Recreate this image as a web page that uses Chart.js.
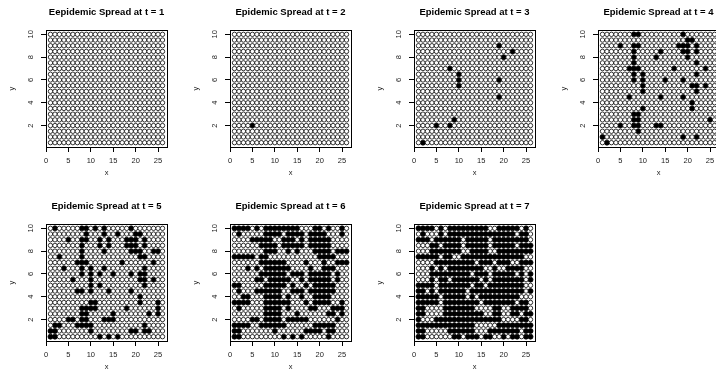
<!DOCTYPE html>
<html>
<head>
<meta charset="utf-8">
<script src="https://cdn.jsdelivr.net/npm/chart.js@4.4.1/dist/chart.umd.min.js"></script>
<style>
  html, body { margin: 0; padding: 0; background: #fff; overflow: hidden; }
  #wrap { position: relative; width: 716px; height: 376px; overflow: hidden; }
  #wrap canvas { position: absolute; }
</style>
</head>
<body>
<div id="wrap"></div>
<script>
// grid state per time step: one string per row, top row is y = 10, bottom row y = 0.5
// 'x' = infected, 'o' = susceptible, columns x = 1..26 (spaces are just for reading)
const titles = [
  'Eepidemic Spread at t = 1',
  'Epidemic Spread at t = 2',
  'Epidemic Spread at t = 3',
  'Epidemic Spread at t = 4',
  'Epidemic Spread at t = 5',
  'Epidemic Spread at t = 6',
  'Epidemic Spread at t = 7',
];
const xTicks = [0, 5, 10, 15, 20, 25];
const yTicks = [2, 4, 6, 8, 10];
const rowY = [10, 9.5, 9, 8.5, 8, 7.5, 7, 6.5, 6, 5.5, 5, 4.5, 4, 3.5, 3, 2.5, 2, 1.5, 1, 0.5];

const gridT1 = [
  'ooooo ooooo ooooo ooooo ooooo o',
  'ooooo ooooo ooooo ooooo ooooo o',
  'ooooo ooooo ooooo ooooo ooooo o',
  'ooooo ooooo ooooo ooooo ooooo o',
  'ooooo ooooo ooooo ooooo ooooo o',
  'ooooo ooooo ooooo ooooo ooooo o',
  'ooooo ooooo ooooo ooooo ooooo o',
  'ooooo ooooo ooooo ooooo ooooo o',
  'ooooo ooooo ooooo ooooo ooooo o',
  'ooooo ooooo ooooo ooooo ooooo o',
  'ooooo ooooo ooooo ooooo ooooo o',
  'ooooo ooooo ooooo ooooo ooooo o',
  'ooooo ooooo ooooo ooooo ooooo o',
  'ooooo ooooo ooooo ooooo ooooo o',
  'ooooo ooooo ooooo ooooo ooooo o',
  'ooooo ooooo ooooo ooooo ooooo o',
  'ooooo ooooo ooooo ooooo ooooo o',
  'ooooo ooooo ooooo ooooo ooooo o',
  'ooooo ooooo ooooo ooooo ooooo o',
  'ooooo ooooo ooooo ooooo ooooo o',
];
const gridT2 = [
  'ooooo ooooo ooooo ooooo ooooo o',
  'ooooo ooooo ooooo ooooo ooooo o',
  'ooooo ooooo ooooo ooooo ooooo o',
  'ooooo ooooo ooooo ooooo ooooo o',
  'ooooo ooooo ooooo ooooo ooooo o',
  'ooooo ooooo ooooo ooooo ooooo o',
  'ooooo ooooo ooooo ooooo ooooo o',
  'ooooo ooooo ooooo ooooo ooooo o',
  'ooooo ooooo ooooo ooooo ooooo o',
  'ooooo ooooo ooooo ooooo ooooo o',
  'ooooo ooooo ooooo ooooo ooooo o',
  'ooooo ooooo ooooo ooooo ooooo o',
  'ooooo ooooo ooooo ooooo ooooo o',
  'ooooo ooooo ooooo ooooo ooooo o',
  'ooooo ooooo ooooo ooooo ooooo o',
  'ooooo ooooo ooooo ooooo ooooo o',
  'oooox ooooo ooooo ooooo ooooo o',
  'ooooo ooooo ooooo ooooo ooooo o',
  'ooooo ooooo ooooo ooooo ooooo o',
  'ooooo ooooo ooooo ooooo ooooo o',
];
const gridT3 = [
  'ooooo ooooo ooooo ooooo ooooo o',
  'ooooo ooooo ooooo ooooo ooooo o',
  'ooooo ooooo ooooo oooxo ooooo o',
  'ooooo ooooo ooooo ooooo oxooo o',
  'ooooo ooooo ooooo oooox ooooo o',
  'ooooo ooooo ooooo ooooo ooooo o',
  'ooooo ooxoo ooooo ooooo ooooo o',
  'ooooo oooox ooooo ooooo ooooo o',
  'ooooo oooox ooooo oooxo ooooo o',
  'ooooo oooox ooooo ooooo ooooo o',
  'ooooo ooooo ooooo ooooo ooooo o',
  'ooooo ooooo ooooo oooxo ooooo o',
  'ooooo ooooo ooooo ooooo ooooo o',
  'ooooo ooooo ooooo ooooo ooooo o',
  'ooooo ooooo ooooo ooooo ooooo o',
  'ooooo oooxo ooooo ooooo ooooo o',
  'oooox ooxoo ooooo ooooo ooooo o',
  'ooooo ooooo ooooo ooooo ooooo o',
  'ooooo ooooo ooooo ooooo ooooo o',
  'oxooo ooooo ooooo ooooo ooooo o',
];
const gridT4 = [
  'ooooo ooxxo ooooo oooxo ooooo o',
  'ooooo ooooo ooooo oooox xoooo o',
  'oooox ooxxo ooooo ooxxx oxooo o',
  'ooooo ooxoo oooxo oooxx oxooo o',
  'ooooo ooxoo ooxoo oooox ooooo o',
  'ooooo ooxoo ooooo ooooo oxooo o',
  'ooooo oxxxo ooooo oxooo oooxo o',
  'ooooo ooxox ooooo ooooo oxooo o',
  'ooooo ooxox oooox oooxo ooooo o',
  'ooooo oooox ooooo ooooo xxoxo o',
  'ooooo oooox ooooo ooooo oxooo o',
  'ooooo oxooo oooxo oooxo ooooo o',
  'ooooo ooooo ooooo ooooo xoooo o',
  'ooooo oooox ooooo ooooo xoooo o',
  'ooooo ooxxo ooooo ooooo ooooo o',
  'ooooo ooxxo ooooo ooooo oooox o',
  'oooox ooxxo ooxxo ooooo ooooo o',
  'ooooo oooxo ooooo ooooo ooooo o',
  'xoooo ooooo ooooo oooxo oxooo o',
  'oxooo ooooo ooooo ooooo ooooo o',
];
const gridT5 = [
  'oxooo ooxxo xoxoo oooxo ooooo o',
  'ooooo oooxo ooxoo xooox xoooo o',
  'oooox ooxxo oxoxo ooxxx oxooo o',
  'ooooo ooxoo oxoxo ooxxx oxooo o',
  'ooooo ooxoo ooxoo oooxx xooxx o',
  'ooxoo ooxoo ooooo ooooo xxooo o',
  'ooooo oxxxo ooooo oxooo oooxo o',
  'oooxo ooxox ooxoo ooooo oxooo o',
  'ooooo ooxox oxoox oooxo xxooo o',
  'ooooo xooox ooooo ooooo xxoxo o',
  'ooooo oooox oxooo ooooo oxooo o',
  'ooooo oxxox oooxo oooxo ooooo o',
  'ooooo ooooo ooooo ooooo xoooo o',
  'ooooo oooox xoooo ooooo xooox o',
  'ooooo ooxxx xoooo ooxoo oooox o',
  'ooooo ooxxo oooox ooooo ooxox o',
  'oooox xoxxo ooxxx ooooo ooooo o',
  'oxxoo oxxxx ooooo ooooo oxooo o',
  'xxooo oooox ooooo oooxx oxxoo o',
  'xxooo ooooo oxoxo xoooo ooooo o',
];
const gridT6 = [
  'xxxxo xoxxx xxxxx oooxx oxoox o',
  'oxooo ooxxx xoxxx xoxxx xooox o',
  'oooox xxxxo oxxxo xoxxx xxooo o',
  'ooooo oxxxx oxxxx xoxxx xxooo o',
  'ooooo ooxxx ooxox oooxx xxoxx x',
  'xxxxx oxxoo ooooo oooox xxxoo o',
  'ooooo oxxxx xxooo oxooo xooxx x',
  'oooxo xoxxx xxxoo ooxoo xxxoo o',
  'ooooo oxxxx xxoxx xoxxx xxoxo o',
  'ooooo xxoxx xxxoo xoxxx xxoxo o',
  'xxooo ooxxx xxoxo oxoxx xxxoo o',
  'oxooo xxxxx xooxx xoxxx xxxoo o',
  'ooxxo ooxxx xoxoo xooxx xxooo o',
  'xxxxo ooxxx xxxoo oxoxx xxoox o',
  'oxooo ooxxx xoxoo ooxxo ooxxx o',
  'ooooo ooxxx xooox ooooo oxxox o',
  'oooox xoxxx xoxxx xxooo oooxo o',
  'xxxxo oxxxx xxooo oooxx xxxoo o',
  'xxooo oooox ooooo oxxxx oxxoo o',
  'xxooo ooooo oxoxo xoooo oxooo o',
];
const gridT7 = [
  'xxxxo xoxxx xxxxx xooxx xxxox o',
  'oxooo xoxxx xxxxx xxxxx xxoxx o',
  'xxxox xxxxx oxxxx xoxxx xxxxx o',
  'oooxx oxxxx oxxxx xoxxx xxoxx x',
  'oooxx xxxxx ooxxx xooxx xxxxx x',
  'xxxxx oxxoo xxxxx xxxxx xxxxo o',
  'oooox xxxxx xxxox xxoxx xooxx x',
  'oooxo xoxxx xxxxx ooxoo xxxxo o',
  'oooxx xxxxx xxoxx xoxxx xxoxo x',
  'oooxo xxoxx xxxxo xoxxx xxxxo x',
  'xxxxo xxxxx xxoxx oxxxx xxxxo o',
  'xxoxo xxxxx xoxxx xxxxx xxxxo x',
  'xxxxx oxxxx xoxox xxxxx xxxoo o',
  'xxxxx oxxxx xxxxo xxxxx xxoxx o',
  'xxooo oxxxx xxxoo ooxxo oxxxx o',
  'xxooo oxxxx xxxxx ooxxo oxxox x',
  'xooox xxxxx xxxxx xxxxo oooxx o',
  'xxxxx xxxxx xxxoo oooxx xxxxx x',
  'xxooo ooxxx xxxoo oxxxx xxxox x',
  'xxooo oooxx oxxxo xxoox oxxox x',
];
const grids = [gridT1, gridT2, gridT3, gridT4, gridT5, gridT6, gridT7];

const PANEL_W = 184;
const PANEL_H = 194;
const FONT = '"Liberation Sans", Arial, Helvetica, sans-serif';

function splitGrid(rows) {
  const sus = [];
  const inf = [];
  rows.forEach((row, r) => {
    const cells = row.replace(/ /g, '');
    if (cells.length !== 26)
      throw new Error('bad row length ' + r + ': ' + row);
    for (let c = 0; c < cells.length; ++c) {
      const pt = { x: c + 1, y: rowY[r] };
      if (cells[c] === 'x') inf.push(pt);
      else sus.push(pt);
    }
  });
  return { sus, inf };
}

// R-like frame, rotated y tick labels and titles
const baseGraphics = {
  id: 'baseGraphics',
  afterDraw(chart, _args, opts) {
    const { ctx, chartArea: a, scales } = chart;
    ctx.save();
    ctx.strokeStyle = '#000';
    ctx.lineWidth = 1;
    ctx.strokeRect(Math.round(a.left) + 0.5, Math.round(a.top) + 0.5,
      Math.round(a.right - a.left), Math.round(a.bottom - a.top));

    const cx = (a.left + a.right) / 2;
    ctx.fillStyle = '#000';
    ctx.textAlign = 'center';
    ctx.textBaseline = 'middle';
    ctx.font = 'bold 9.5px ' + FONT;
    ctx.fillText(opts.title, cx, 12);

    ctx.fillStyle = '#222';
    ctx.font = '7.5px ' + FONT;
    ctx.fillText('x', cx, 173);

    for (const v of yTicks) {
      const py = scales.y.getPixelForValue(v);
      ctx.save();
      ctx.translate(31, py);
      ctx.rotate(-Math.PI / 2);
      ctx.fillText(String(v), 0, 0);
      ctx.restore();
    }
    ctx.save();
    ctx.translate(12, (a.top + a.bottom) / 2);
    ctx.rotate(-Math.PI / 2);
    ctx.fillText('y', 0, 0);
    ctx.restore();
    ctx.restore();
  },
};

const wrap = document.getElementById('wrap');

grids.forEach((rows, i) => {
  const canvas = document.createElement('canvas');
  canvas.width = PANEL_W;
  canvas.height = PANEL_H;
  canvas.style.left = (i % 4) * PANEL_W + 'px';
  canvas.style.top = Math.floor(i / 4) * PANEL_H + 'px';
  wrap.appendChild(canvas);

  const { sus, inf } = splitGrid(rows);

  new Chart(canvas, {
    type: 'scatter',
    data: {
      datasets: [
        {
          label: 'susceptible',
          data: sus,
          pointRadius: 2.2,
          pointBackgroundColor: '#fff',
          pointBorderColor: '#000',
          pointBorderWidth: 0.8,
        },
        {
          label: 'infected',
          data: inf,
          pointRadius: 2.5,
          pointBackgroundColor: '#000',
          pointBorderColor: '#000',
          pointBorderWidth: 0.8,
        },
      ],
    },
    plugins: [baseGraphics],
    options: {
      responsive: false,
      animation: false,
      devicePixelRatio: 1,
      events: [],
      layout: { padding: { left: 0, right: 17, top: 30, bottom: 0 } },
      scales: {
        x: {
          type: 'linear',
          min: 0,
          max: 27,
          afterBuildTicks: (scale) => { scale.ticks = xTicks.map((v) => ({ value: v })); },
          afterFit: (scale) => { scale.height = PANEL_H - 147; },
          grid: { drawOnChartArea: false, drawTicks: true, tickLength: 5, color: '#000', lineWidth: 1 },
          border: { display: true, color: '#000' },
          ticks: {
            autoSkip: false,
            maxRotation: 0,
            padding: 4,
            color: '#222',
            font: { size: 7.5, family: FONT },
          },
        },
        y: {
          type: 'linear',
          min: 0.12,
          max: 10.38,
          afterBuildTicks: (scale) => { scale.ticks = yTicks.map((v) => ({ value: v })); },
          afterFit: (scale) => { scale.width = 46; },
          grid: { drawOnChartArea: false, drawTicks: true, tickLength: 5, color: '#000', lineWidth: 1 },
          border: { display: true, color: '#000' },
          ticks: { color: 'rgba(0,0,0,0)', font: { size: 7.5, family: FONT } },
        },
      },
      plugins: {
        legend: { display: false },
        tooltip: { enabled: false },
        title: { display: false },
        baseGraphics: { title: titles[i] },
      },
    },
  });
});
</script>
</body>
</html>
